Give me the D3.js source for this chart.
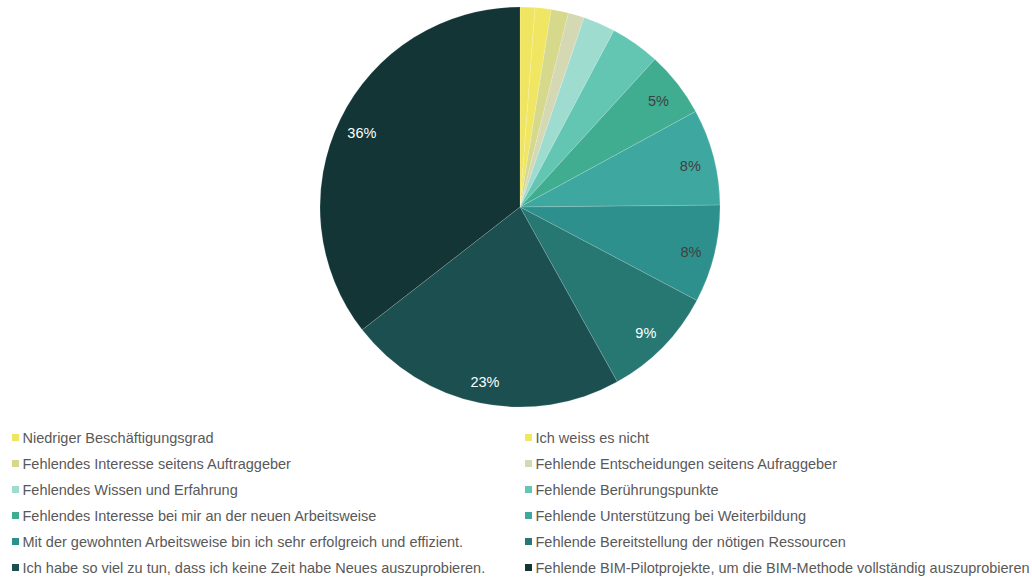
<!DOCTYPE html>
<html>
<head>
<meta charset="utf-8">
<script src="https://cdn.jsdelivr.net/npm/d3@7"></script>
<style>
  html, body { margin: 0; padding: 0; background: #fff; }
  svg { display: block; font-family: "Liberation Sans", Arial, sans-serif; }
</style>
</head>
<body>
<svg id="chart" width="1032" height="579"></svg>
<script>
// Reasons (survey answers) in drawing order, clockwise from 12 o'clock
const categories = [
  "Niedriger Beschäftigungsgrad",
  "Ich weiss es nicht",
  "Fehlendes Interesse seitens Auftraggeber",
  "Fehlende Entscheidungen seitens Aufraggeber",
  "Fehlendes Wissen und Erfahrung",
  "Fehlende Berührungspunkte",
  "Fehlendes Interesse bei mir an der neuen Arbeitsweise",
  "Fehlende Unterstützung bei Weiterbildung",
  "Mit der gewohnten Arbeitsweise bin ich sehr erfolgreich und effizient.",
  "Fehlende Bereitstellung der nötigen Ressourcen",
  "Ich habe so viel zu tun, dass ich keine Zeit habe Neues auszuprobieren.",
  "Fehlende BIM-Pilotprojekte, um die BIM-Methode vollständig auszuprobieren"
];

// Share of answers per reason (percent)
const shares = [1.2, 1.3, 1.4, 1.3, 2.6, 4.0, 5.3, 7.8, 7.9, 9.2, 22.6, 35.6];

const colors = [
  "#f0e560", "#f0e662", "#d6d88b", "#d4d8b3", "#9fdcd0", "#63c6b3",
  "#40ad90", "#3ea8a0", "#2d908d", "#277773", "#1b4f50", "#133536"
];

// Labels on light slices are dark, on dark slices white
const labelColors = [
  "#404040", "#404040", "#404040", "#404040", "#404040", "#404040",
  "#404040", "#404040", "#404040", "#ffffff", "#ffffff", "#ffffff"
];

const data = categories.map((c, i) => ({ name: c, value: shares[i], color: colors[i], label: labelColors[i] }));
const total = d3.sum(shares);

const svg = d3.select("#chart");
const cx = 520, cy = 207, radius = 200;

const pie = d3.pie().value(d => d.value).sort(null);
const arc = d3.arc().innerRadius(0).outerRadius(radius);
const labelArc = d3.arc().innerRadius(radius * 0.88).outerRadius(radius * 0.88);

const g = svg.append("g").attr("transform", `translate(${cx},${cy})`);
const arcs = pie(data);

g.selectAll("path.slice")
  .data(arcs)
  .join("path")
  .attr("class", "slice")
  .attr("d", arc)
  .attr("fill", d => d.data.color)
  .attr("stroke", "rgba(255,255,255,0.25)")
  .attr("stroke-width", 0.6);

const fmt = v => Math.round(v / total * 100) + "%";

g.selectAll("text.pct")
  .data(arcs.filter(d => d.data.value / total * 100 >= 4.5))
  .join("text")
  .attr("class", "pct")
  .attr("transform", d => {
    const [x, y] = labelArc.centroid(d);
    return `translate(${x},${y + 3})`;
  })
  .attr("text-anchor", "middle")
  .attr("dominant-baseline", "central")
  .attr("font-size", 14.5)
  .attr("fill", d => d.data.label)
  .text(d => fmt(d.data.value));

// Legend: two columns, filled row by row
const legendCols = [12, 525];
const legendY = d3.scalePoint().domain(d3.range(6)).range([437.5, 567.5]);

const legend = svg.append("g").selectAll("g")
  .data(data)
  .join("g")
  .attr("transform", (d, i) => `translate(${legendCols[i % 2]},${legendY(Math.floor(i / 2))})`);

legend.append("rect")
  .attr("x", 0).attr("y", -3.5)
  .attr("width", 7).attr("height", 7)
  .attr("fill", d => d.color);

legend.append("text")
  .attr("x", 10.5)
  .attr("dominant-baseline", "central")
  .attr("font-size", 14.5)
  .attr("fill", "#595959")
  .text(d => d.name);
</script>
</body>
</html>
